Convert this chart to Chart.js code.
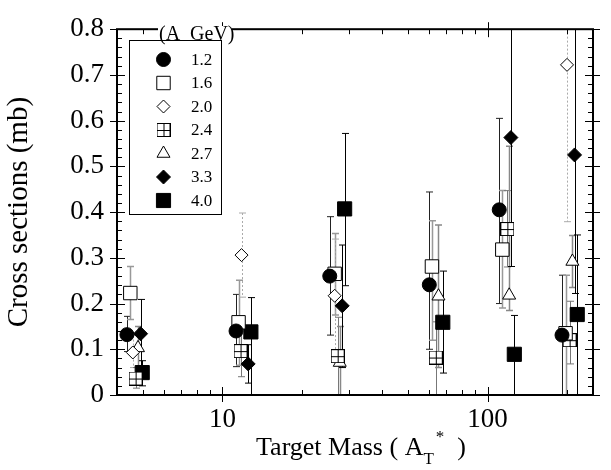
<!DOCTYPE html>
<html>
<head>
<meta charset="utf-8">
<script src="https://cdn.jsdelivr.net/npm/chart.js"></script>
<style>
  body { margin: 0; background: #fff; }
  #wrap { width: 611px; height: 470px; position: relative; }
</style>
</head>
<body>
<div id="wrap"><canvas id="chart" width="611" height="470"></canvas></div>
<script>
// beam energies (A GeV) – one series each
const energies = ["1.2", "1.6", "2.0", "2.4", "2.7", "3.3", "4.0"];

// target mass A_T*, cross section (mb), error bar high / low
const mass12 = [4.36, 11.25, 25.4, 60.3, 110.7, 191];
const sigma12 = [0.132, 0.140, 0.260, 0.241, 0.405, 0.131];
const hi12 = [0.172, 0.220, 0.390, 0.444, 0.605, 0.262];
const lo12 = [0.095, 0.062, 0.131, 0.100, 0.200, 0.0];

const mass16 = [4.49, 11.5, 26.5, 61.7, 113.7, 197];
const sigma16 = [0.223, 0.159, 0.265, 0.281, 0.318, 0.135];
const hi16 = [0.281, 0.251, 0.353, 0.381, 0.447, 0.262];
const lo16 = [0.165, 0.065, 0.175, 0.120, 0.190, 0.0];

const mass20 = [4.59, 11.8, 26.5, 199.5];
const sigma20 = [0.093, 0.306, 0.217, 0.722];
const hi20 = [0.130, 0.398, 0.341, 0.95];
const lo20 = [0.060, 0.214, 0.093, 0.379];

const mass24 = [4.70, 11.7, 27.2, 63.8, 118.8, 204];
const sigma24 = [0.036, 0.096, 0.085, 0.082, 0.363, 0.120];
const hi24 = [0.060, 0.155, 0.170, 0.160, 0.447, 0.205];
const lo24 = [0.015, 0.040, 0.0, 0.0, 0.280, 0.068];

const mass27 = [4.80, 27.7, 65.3, 120.7, 209];
const sigma27 = [0.103, 0.071, 0.216, 0.218, 0.292];
const hi27 = [0.150, 0.150, 0.372, 0.544, 0.349];
const lo27 = [0.060, 0.0, 0.060, 0.185, 0.235];

const mass33 = [4.91, 12.5, 28.3, 122.5, 213];
const sigma33 = [0.134, 0.068, 0.195, 0.563, 0.525];
const hi33 = [0.209, 0.110, 0.328, 0.95, 0.95];
const lo33 = [0.060, 0.026, 0.060, 0.281, 0.222];

const mass40 = [4.98, 12.8, 28.9, 67.8, 126.2, 218];
const sigma40 = [0.049, 0.138, 0.407, 0.159, 0.089, 0.176];
const hi40 = [0.075, 0.213, 0.572, 0.271, 0.174, 0.350];
const lo40 = [0.020, 0.0, 0.239, 0.048, 0.0, 0.0];

const yTicks = [0, 0.1, 0.2, 0.3, 0.4, 0.5, 0.6, 0.7, 0.8];
const xTicks = [10, 100];

const SERIF = "'Liberation Serif', 'Times New Roman', serif";

// square with a plus inside, for the 2.4 series
function crossSquare(size) {
    let c = document.createElement("canvas");
    c.width = size; c.height = size;
    let g = c.getContext("2d");
    g.fillStyle = "#fff";
    g.fillRect(0, 0, size, size);
    g.strokeStyle = "#000";
    g.lineWidth = 1;
    g.strokeRect(0.5, 0.5, size - 1, size - 1);
    let m = Math.floor(size / 2) + 0.5;
    g.beginPath();
    g.moveTo(m, 0); g.lineTo(m, size);
    g.moveTo(0, m); g.lineTo(size, m);
    g.stroke();
    return c;
}

function pairs(xs, ys) {
    return xs.map((x, i) => ({ x: x, y: ys[i] }));
}

const series = [
    { xs: mass12, ys: sigma12, hi: hi12, lo: lo12, style: "circle", r: 7, fill: "#000", bar: "#222", lw: 1 },
    { xs: mass16, ys: sigma16, hi: hi16, lo: lo16, style: "rect", r: 9.5, fill: "#fff", bar: "#999", lw: 1.5 },
    { xs: mass20, ys: sigma20, hi: hi20, lo: lo20, style: "rectRot", r: 6.5, fill: "#fff", bar: "#aaa", lw: 1, dash: [2, 2] },
    { xs: mass24, ys: sigma24, hi: hi24, lo: lo24, style: crossSquare(14), r: 7, fill: "#fff", bar: "#777", lw: 1 },
    { xs: mass27, ys: sigma27, hi: hi27, lo: lo27, style: "triangle", r: 7.5, fill: "#fff", bar: "#888", lw: 1.5 },
    { xs: mass33, ys: sigma33, hi: hi33, lo: lo33, style: "rectRot", r: 7, fill: "#000", bar: "#000", lw: 1 },
    { xs: mass40, ys: sigma40, hi: hi40, lo: lo40, style: "rect", r: 10, fill: "#000", bar: "#000", lw: 1 }
];

const datasets = series.map((s, i) => ({
    label: energies[i],
    data: pairs(s.xs, s.ys),
    pointStyle: s.style,
    pointRadius: s.r,
    pointHoverRadius: s.r,
    pointBackgroundColor: s.fill,
    pointBorderColor: "#000",
    pointBorderWidth: 1,
    showLine: false
}));

/**
 * Error bars, frame with inward ticks, legend box and x title
 */
const decorations = {
    id: "decorations",
    beforeDatasetsDraw(chart) {
        let ctx = chart.ctx, a = chart.chartArea;
        let xs = chart.scales.x, ys = chart.scales.y;
        ctx.save();
        ctx.beginPath();
        ctx.rect(a.left, a.top, a.right - a.left, a.bottom - a.top);
        ctx.clip();
        series.forEach(s => {
            ctx.strokeStyle = s.bar;
            ctx.lineWidth = s.lw;
            s.xs.forEach((m, i) => {
                let px = Math.round(xs.getPixelForValue(m)) + 0.5;
                let top = ys.getPixelForValue(s.hi[i]);
                let bot = ys.getPixelForValue(s.lo[i]);
                ctx.setLineDash(s.dash || []);
                ctx.beginPath();
                ctx.moveTo(px, top); ctx.lineTo(px, bot);
                ctx.stroke();
                ctx.setLineDash([]);
                ctx.beginPath();
                ctx.moveTo(px - 3.5, top); ctx.lineTo(px + 3.5, top);
                if (s.lo[i] > 0) { ctx.moveTo(px - 3.5, bot); ctx.lineTo(px + 3.5, bot); }
                ctx.stroke();
            });
        });
        ctx.restore();
    },
    afterDraw(chart) {
        let ctx = chart.ctx, a = chart.chartArea;
        let xs = chart.scales.x, ys = chart.scales.y;
        ctx.save();
        ctx.strokeStyle = "#000";
        ctx.lineWidth = 2;
        ctx.strokeRect(a.left, a.top, a.right - a.left, a.bottom - a.top);

        // y ticks: majors cross the axis, minors inside
        ctx.lineWidth = 1;
        ctx.beginPath();
        for (let k = 0; k <= 40; k++) {
            let v = k * 0.02;
            let py = Math.round(ys.getPixelForValue(v)) + 0.5;
            let major = k % 5 === 0;
            let inL = major ? 8 : 5, out = major ? 7 : 0;
            ctx.moveTo(a.left - out, py); ctx.lineTo(a.left + inL, py);
            ctx.moveTo(a.right + out, py); ctx.lineTo(a.right - inL, py);
        }
        // x ticks on log axis
        for (let d = 1; d <= 100; d *= 10) {
            for (let m = 1; m <= 9; m++) {
                let v = m * d;
                if (v < xs.min || v > xs.max) continue;
                let px = Math.round(xs.getPixelForValue(v)) + 0.5;
                let major = m === 1;
                let inL = major ? 8 : 5, out = major ? 7 : 0;
                ctx.moveTo(px, a.bottom + out); ctx.lineTo(px, a.bottom - inL);
                ctx.moveTo(px, a.top - out); ctx.lineTo(px, a.top + inL);
            }
        }
        ctx.stroke();

        // legend
        ctx.lineWidth = 1;
        ctx.strokeRect(129.5, 40.5, 92, 174);
        ctx.fillStyle = "#fff";
        ctx.fillRect(158, 26, 74, 14);
        ctx.fillStyle = "#000";
        ctx.font = "20px " + SERIF;
        ctx.textBaseline = "alphabetic";
        ctx.textAlign = "left";
        ctx.fillText("(A  GeV)", 159, 40);
        ctx.font = "17px " + SERIF;
        ctx.textBaseline = "middle";
        let rowY = 59.5;
        chart.data.datasets.forEach((ds, i) => {
            let y = rowY + i * 23.5;
            ctx.fillStyle = ds.pointBackgroundColor;
            ctx.strokeStyle = "#000";
            ctx.lineWidth = 1;
            Chart.helpers.drawPoint(ctx, {
                pointStyle: ds.pointStyle,
                radius: ds.pointRadius,
                rotation: 0,
                borderWidth: 1
            }, 163.5, y);
            ctx.fillStyle = "#000";
            ctx.fillText(ds.label, 191, y + 1);
        });

        // x title with subscript / superscript
        let base = 455;
        let parts = [
            { t: "Target Mass ( A", f: "26px", dy: 0 },
            { t: "T", f: "17px", dy: 9 },
            { t: "*", f: "17px", dy: -13 },
            { t: "  )", f: "26px", dy: 0 }
        ];
        let w = 0;
        parts.forEach(p => { ctx.font = p.f + " " + SERIF; p.w = ctx.measureText(p.t).width; w += p.w; });
        let x = 360 - w / 2;
        ctx.textBaseline = "alphabetic";
        parts.forEach(p => {
            ctx.font = p.f + " " + SERIF;
            ctx.fillText(p.t, x, base + p.dy);
            x += p.w + (p.t === "T" ? 2 : 0);
        });
        ctx.restore();
    }
};

new Chart(document.getElementById("chart"), {
    type: "scatter",
    data: { datasets: datasets },
    options: {
        responsive: false,
        animation: false,
        layout: { padding: { top: 14, right: 18, left: 0, bottom: 0 } },
        plugins: {
            legend: { display: false },
            tooltip: { enabled: false }
        },
        scales: {
            x: {
                type: "logarithmic",
                min: 4,
                max: 250,
                afterFit: scale => { scale.height = 75; },
                afterBuildTicks: scale => { scale.ticks = xTicks.map(v => ({ value: v })); },
                grid: { display: false, drawTicks: false },
                border: { display: false },
                ticks: {
                    padding: 9,
                    color: "#000",
                    font: { family: SERIF, size: 27 },
                    callback: v => String(v)
                }
            },
            y: {
                min: 0,
                max: 0.8,
                afterFit: scale => { scale.width = 117; },
                afterBuildTicks: scale => { scale.ticks = yTicks.map(v => ({ value: v })); },
                grid: { display: false, drawTicks: false },
                border: { display: false },
                title: {
                    display: true,
                    text: "Cross sections (mb)",
                    color: "#000",
                    font: { family: SERIF, size: 29 },
                    padding: { top: 2, bottom: 2 }
                },
                ticks: {
                    padding: 13,
                    color: "#000",
                    font: { family: SERIF, size: 27 },
                    callback: v => String(Math.round(v * 10) / 10)
                }
            }
        }
    },
    plugins: [decorations]
});
</script>
</body>
</html>
